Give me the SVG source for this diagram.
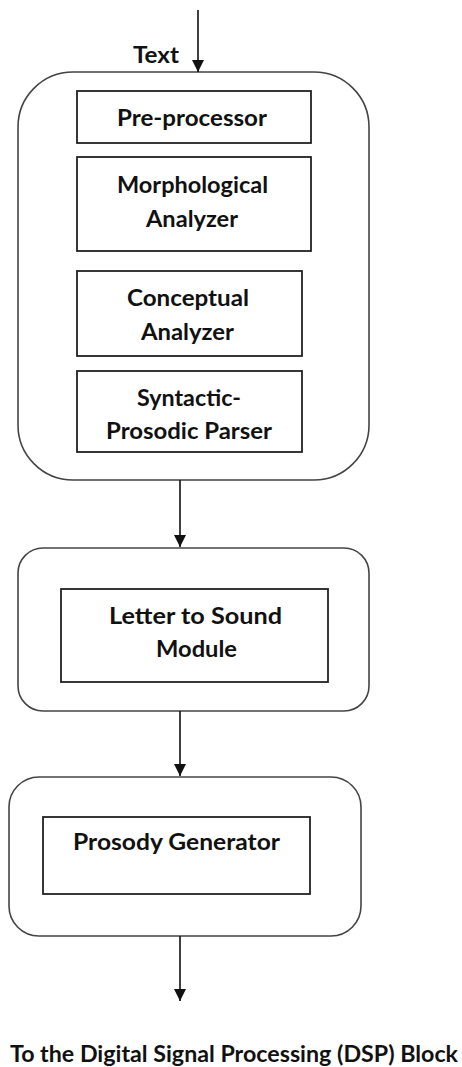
<svg xmlns="http://www.w3.org/2000/svg" width="462" height="1067" viewBox="0 0 462 1067">
<style>
.outer{fill:none;stroke:#444;stroke-width:1.6}
.inner{fill:#fff;stroke:#222;stroke-width:1.8}
.t{font-family:Lato,"Open Sans","Liberation Sans",sans-serif;font-weight:700;font-size:22px;fill:#111}
.c{stroke:#111;stroke-width:1.6;fill:none}
</style>
<defs>
<marker id="ah" viewBox="0 0 12 12" refX="12" refY="6" markerWidth="12" markerHeight="13" markerUnits="userSpaceOnUse" orient="auto">
<path d="M0,0 L12,6 L0,12 z" fill="#111"/>
</marker>
</defs>
<rect width="462" height="1067" fill="#fff"/>
<g id="input-label"><text class="t" x="133" y="63" textLength="46" lengthAdjust="spacingAndGlyphs">Text</text></g>
<g id="nlp-block"><rect class="outer" x="18" y="72" width="351" height="408" rx="55" ry="55"/></g>
<g id="pre-processor"><rect class="inner" x="77" y="91" width="234" height="52"/><text class="t" x="117" y="126" textLength="150" lengthAdjust="spacingAndGlyphs">Pre-processor</text></g>
<g id="morphological-analyzer"><rect class="inner" x="77" y="157" width="234" height="94"/><text class="t" x="117" y="193" textLength="151" lengthAdjust="spacingAndGlyphs">Morphological</text><text class="t" x="146" y="227" textLength="92" lengthAdjust="spacingAndGlyphs">Analyzer</text></g>
<g id="conceptual-analyzer"><rect class="inner" x="77" y="271" width="225" height="85"/><text class="t" x="127" y="306" textLength="122" lengthAdjust="spacingAndGlyphs">Conceptual</text><text class="t" x="141" y="340" textLength="93" lengthAdjust="spacingAndGlyphs">Analyzer</text></g>
<g id="syntactic-prosodic-parser"><rect class="inner" x="77" y="371" width="225" height="81"/><text class="t" x="137" y="406" textLength="104" lengthAdjust="spacingAndGlyphs">Syntactic-</text><text class="t" x="106" y="439" textLength="166" lengthAdjust="spacingAndGlyphs">Prosodic Parser</text></g>
<g id="lts-block"><rect class="outer" x="18" y="548" width="351" height="163" rx="25" ry="25"/></g>
<g id="letter-to-sound"><rect class="inner" x="61" y="589" width="267" height="93"/><text class="t" x="109" y="624" textLength="173" lengthAdjust="spacingAndGlyphs">Letter to Sound</text><text class="t" x="156" y="657" textLength="81" lengthAdjust="spacingAndGlyphs">Module</text></g>
<g id="prosody-block"><rect class="outer" x="9" y="777" width="352" height="159" rx="30" ry="30"/></g>
<g id="prosody-generator"><rect class="inner" x="43" y="817" width="267" height="77"/><text class="t" x="73" y="850" textLength="207" lengthAdjust="spacingAndGlyphs">Prosody Generator</text></g>
<g id="output-label"><text class="t" x="10" y="1062" textLength="448" lengthAdjust="spacingAndGlyphs">To the Digital Signal Processing (DSP) Block</text></g>
<g id="connectors">
<line class="c" x1="198" y1="10" x2="198" y2="72" marker-end="url(#ah)"/>
<line class="c" x1="180" y1="480" x2="180" y2="547" marker-end="url(#ah)"/>
<line class="c" x1="180" y1="711" x2="180" y2="776" marker-end="url(#ah)"/>
<line class="c" x1="180" y1="936" x2="180" y2="1001" marker-end="url(#ah)"/>
</g>
</svg>
